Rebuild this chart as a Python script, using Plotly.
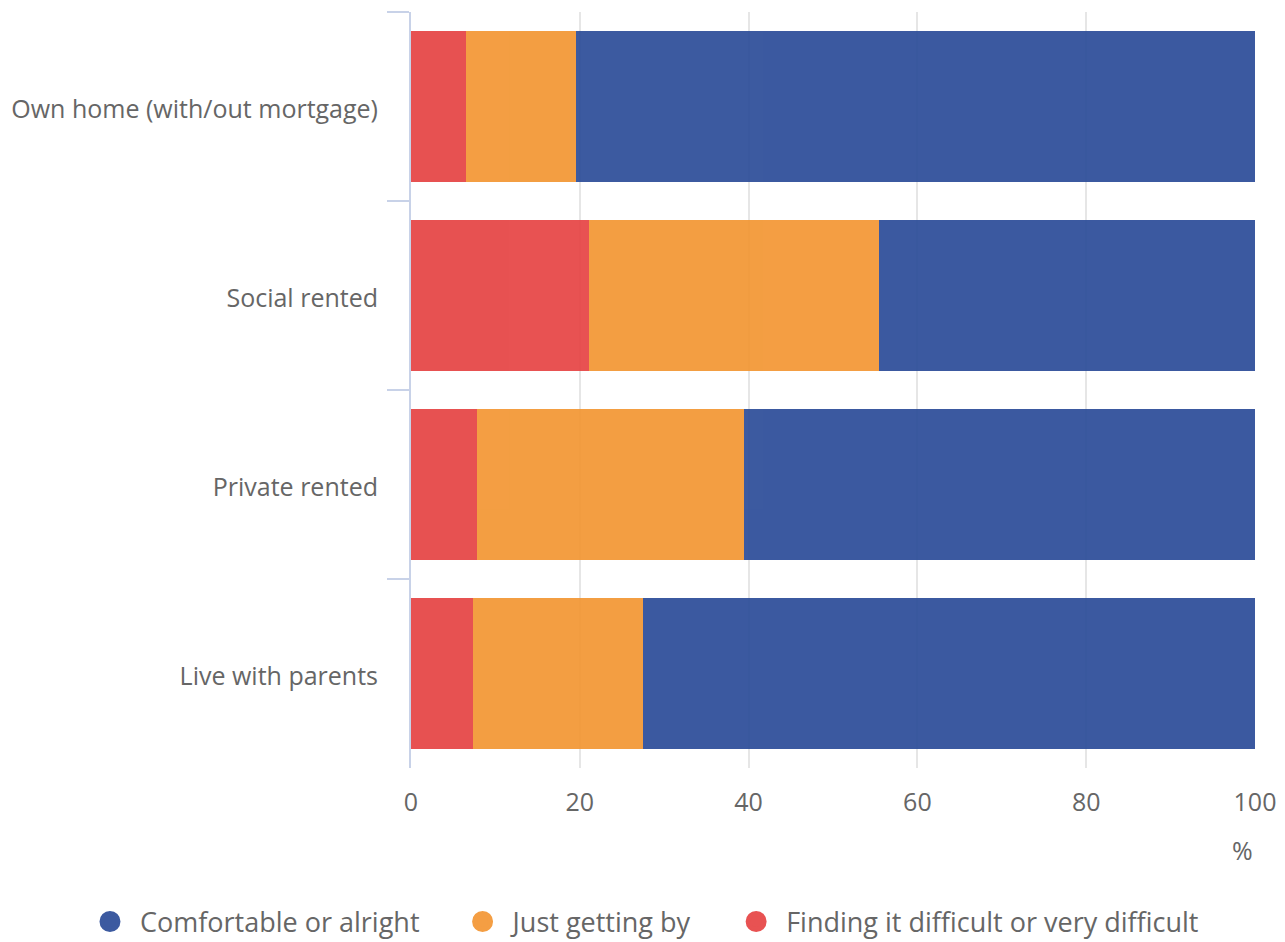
import plotly.graph_objects as go

categories = ["Own home (with/out mortgage)", "Social rented", "Private rented", "Live with parents"]
difficult = [6.5, 21.1, 7.8, 7.3]
getting_by = [13.0, 34.4, 31.7, 20.2]
comfortable = [80.5, 44.5, 60.5, 72.5]
x_ticks = [0, 20, 40, 60, 80, 100]

series_names = ["Comfortable or alright", "Just getting by", "Finding it difficult or very difficult"]
bar_colors = {"Comfortable or alright": "rgb(43,76,152)",
              "Just getting by": "rgb(243,150,51)",
              "Finding it difficult or very difficult": "rgb(230,67,67)"}
legend_colors = {"Comfortable or alright": "rgb(60,90,160)",
                 "Just getting by": "rgb(244,158,67)",
                 "Finding it difficult or very difficult": "rgb(232,82,82)"}

FONT = "Open Sans"
GREY = "#666666"
AXIS_COL = "#c8d2e8"

fig = go.Figure()
for name, vals in [(series_names[2], difficult), (series_names[1], getting_by), (series_names[0], comfortable)]:
    fig.add_trace(go.Bar(
        y=categories, x=vals, orientation="h", name=name,
        marker=dict(color=bar_colors[name], line=dict(width=0)),
        opacity=0.92, showlegend=False, hoverinfo="x+name",
    ))

trail = "\u00a0" * 4
for name in series_names:
    fig.add_trace(go.Scatter(
        x=[None], y=[None], mode="markers", name=name + trail,
        marker=dict(symbol="circle", size=16, color=legend_colors[name],
                    line=dict(width=5, color=legend_colors[name])),
        showlegend=True,
    ))

fig.update_layout(
    barmode="stack", bargap=0.2,
    width=1285, height=942,
    margin=dict(l=411, r=30, t=12, b=174, autoexpand=False),
    paper_bgcolor="white", plot_bgcolor="white",
    font=dict(family=FONT, size=25, color=GREY),
    legend=dict(orientation="h", xref="paper", yref="paper",
                x=-0.3922, xanchor="left", y=-0.2037, yanchor="middle",
                itemwidth=50,
                font=dict(family=FONT, size=27, color=GREY),
                traceorder="normal"),
    xaxis=dict(range=[0, 100], tickvals=x_ticks, showgrid=True,
               gridcolor="#e6e6e6", gridwidth=1.5, zeroline=False,
               showline=False, ticks="", ticklabelstandoff=17, automargin=False,
               tickfont=dict(family=FONT, size=25, color=GREY), fixedrange=True),
    yaxis=dict(categoryorder="array", categoryarray=categories, autorange="reversed",
               showline=True, linecolor=AXIS_COL, linewidth=2, automargin=False,
               ticks="outside", tickson="boundaries", ticklen=22,
               tickcolor=AXIS_COL, tickwidth=2, showgrid=False,
               ticklabelstandoff=26, ticklabelshift=-3,
               tickfont=dict(family=FONT, size=25, color=GREY)),
    annotations=[dict(text="%", xref="paper", yref="paper", x=1, y=-0.108,
                      xanchor="right", yanchor="middle", showarrow=False,
                      font=dict(family=FONT, size=25, color=GREY))],
)

fig.write_html("out.html", config={"displayModeBar": False},
               post_script="document.body.style.margin='0';")
